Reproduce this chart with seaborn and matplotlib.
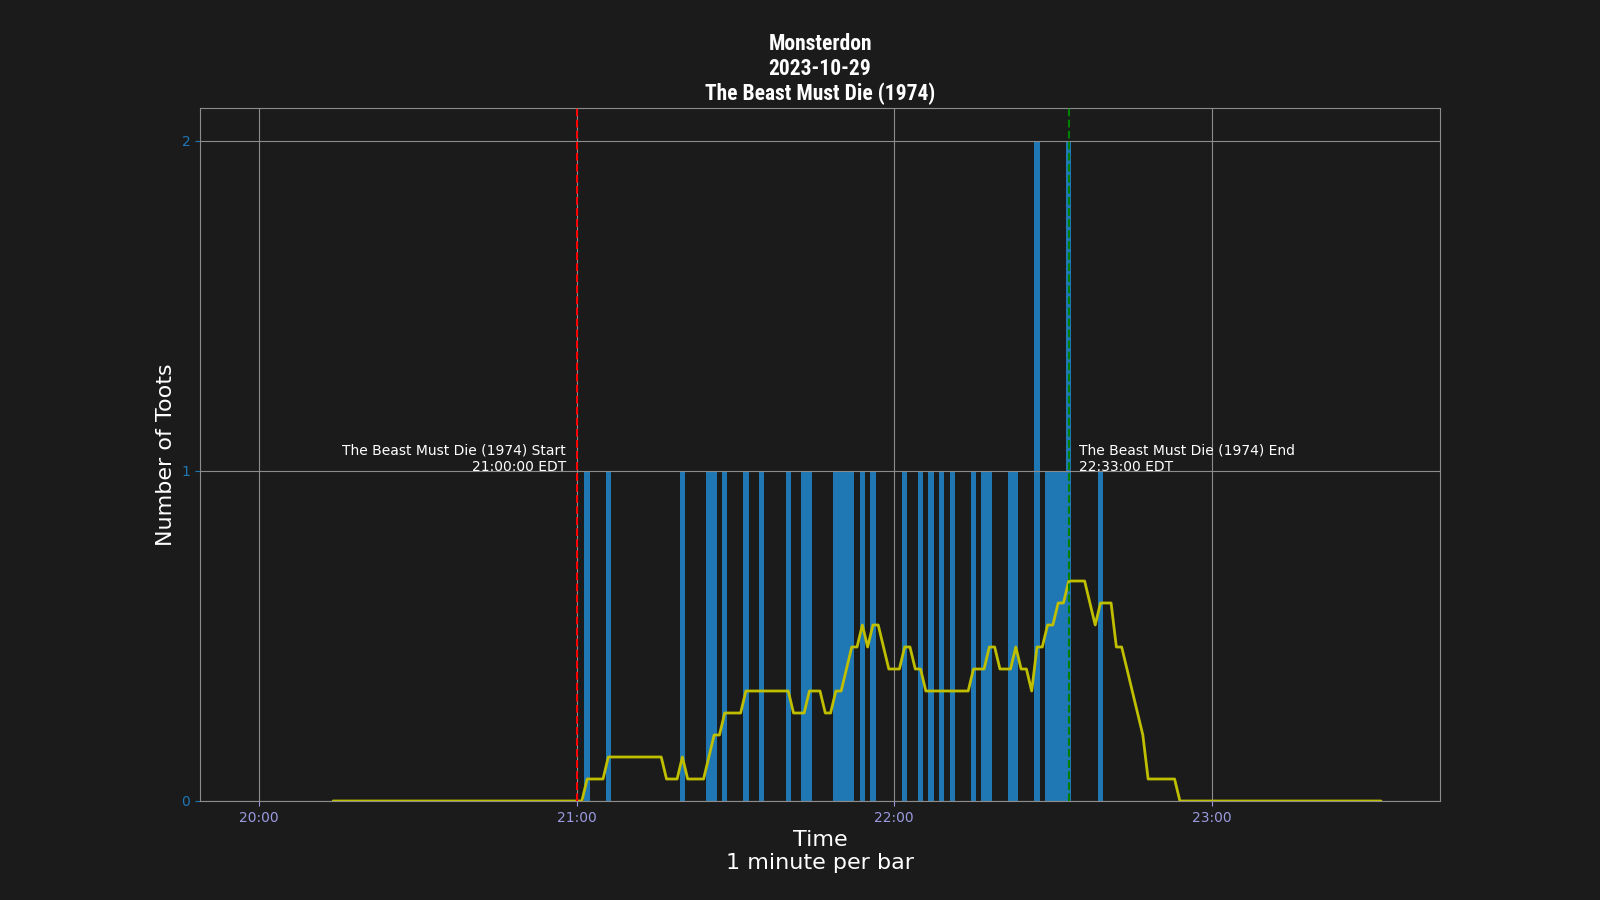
import pandas as pd
import seaborn as sns
import matplotlib.pyplot as plt
import matplotlib.dates as mdates
import matplotlib.transforms as mtransforms
from matplotlib.ticker import MaxNLocator

# minutes (HH:MM) that had toots, and how many toots in that minute
toot_minutes = ["21:02", "21:06", "21:20", "21:25", "21:26", "21:28", "21:32", "21:35",
                "21:40", "21:43", "21:44", "21:49", "21:50", "21:51", "21:52", "21:54",
                "21:56", "22:02", "22:05", "22:07", "22:09", "22:11", "22:15", "22:17",
                "22:18", "22:22", "22:23", "22:27", "22:29", "22:30", "22:31", "22:32",
                "22:33", "22:39"]
toot_counts = [1, 1, 1, 1, 1, 1, 1, 1,
               1, 1, 1, 1, 1, 1, 1, 1,
               1, 1, 1, 1, 1, 1, 1, 1,
               1, 1, 1, 2, 1, 1, 1, 1,
               2, 1]

day = "2023-10-29"
window_start = "20:00"
window_end = "23:32"
show_start = "21:00"
show_end = "22:33"
show_name = "The Beast Must Die (1974)"
rolling_window = 15

idx = pd.date_range(f"{day} {window_start}", f"{day} {window_end}", freq="min")
toots = pd.Series(toot_counts, index=pd.to_datetime([f"{day} {m}" for m in toot_minutes]))
per_min = toots.reindex(idx, fill_value=0)
data = pd.DataFrame({"Time": idx, "Toots": per_min.values})
# rolling average of toots per minute, trailing window
data["Rolling"] = data["Toots"].rolling(rolling_window).mean()

bg = "#1b1b1b"
sns.set_theme(style="dark", rc={
    "figure.facecolor": bg, "axes.facecolor": bg, "savefig.facecolor": bg,
    "axes.edgecolor": "#8c8c8c", "grid.color": "#8c8c8c", "axes.grid": True,
    "axes.linewidth": 0.8, "grid.linewidth": 0.8, "text.color": "white",
    "axes.labelcolor": "white", "xtick.bottom": True, "ytick.left": True,
    "axes.axisbelow": "line",
    "xtick.major.size": 3.5, "ytick.major.size": 3.5,
    "xtick.major.width": 0.8, "ytick.major.width": 0.8,
    "xtick.major.pad": 3.5, "ytick.major.pad": 3.5,
    "axes.labelpad": 4.0, "axes.titlepad": 6.0,
})
plt.rcParams["font.family"] = ["DejaVu Sans"]

fig, ax = plt.subplots(figsize=(16, 9), dpi=100)
fig.subplots_adjust(left=0.125, right=0.9, top=0.88, bottom=0.11)

ax.bar(data["Time"], data["Toots"], width=1 / 1440, color="#1f77b4", linewidth=0)
sns.lineplot(data=data, x="Time", y="Rolling", ax=ax, color="#bfbf00", linewidth=2)

t0 = pd.Timestamp(f"{day} {show_start}")
t1 = pd.Timestamp(f"{day} {show_end}")
ax.axvline(t0, color="#ff0000", linestyle="--", linewidth=1.5, zorder=4)
ax.axvline(t1, color="#008000", linestyle="--", linewidth=1.5, zorder=4)
off = pd.Timedelta(minutes=2)
tr = mtransforms.offset_copy(ax.transData, fig=fig, y=-2.2, units="points")
ax.text(t0 - off, 1, f"{show_name} Start\n{t0:%H:%M:%S} EDT", ha="right", va="bottom",
        color="white", fontsize=10, transform=tr)
ax.text(t1 + off, 1, f"{show_name} End\n{t1:%H:%M:%S} EDT", ha="left", va="bottom",
        color="white", fontsize=10, transform=tr)

ax.xaxis.set_major_locator(mdates.HourLocator())
ax.xaxis.set_major_formatter(mdates.DateFormatter("%H:%M"))
ax.yaxis.set_major_locator(MaxNLocator(integer=True))
ax.tick_params(axis="x", colors="#9a9ae0", labelsize=10)
ax.tick_params(axis="y", colors="#1f77b4", labelsize=10)
ax.set_ylim(0, 2.1)

ax.set_xlabel("Time\n1 minute per bar", fontsize=16, color="white")
ax.set_ylabel("Number of Toots", fontsize=16, color="white")
ax.set_title(f"Monsterdon\n{day}\n{show_name}", fontsize=15.5, color="white",
             fontweight="bold", fontstretch="condensed", linespacing=1.14,
             family=["Roboto Condensed", "Open Sans Condensed", "Liberation Sans Narrow", "Roboto"])

plt.savefig("out.png", dpi=100)
plt.close()
